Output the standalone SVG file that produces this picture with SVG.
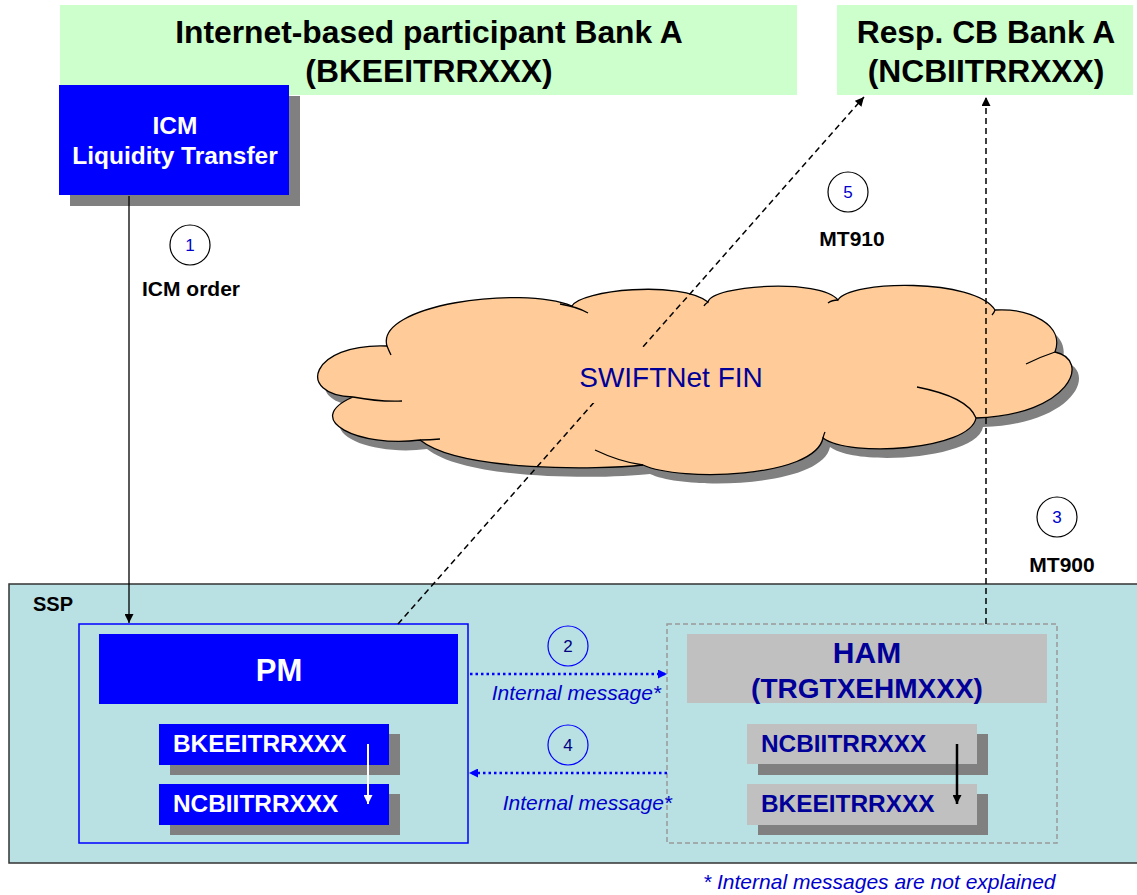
<svg xmlns="http://www.w3.org/2000/svg" width="1137" height="895" viewBox="0 0 1137 895">
<style>
text{font-family:"Liberation Sans",Arial,sans-serif}
.hdr{fill:#ccffcc}
.hdrT{font-size:31.8px;font-weight:bold;fill:#000;text-anchor:middle}
.shadow{fill:#808080}
.blue{fill:#0000ff}
.gray{fill:#c0c0c0}
.wT{fill:#fff;font-weight:bold}
.hamT{fill:#000099;font-weight:bold}
.dash{stroke:#000;stroke-width:1.5;stroke-dasharray:6 4;fill:none}
.dot{stroke:#0000ff;stroke-width:2.5;stroke-dasharray:2.5 3;fill:none}
.step{fill:#fff;stroke:#000;stroke-width:1.2}
.stepB{fill:none;stroke:#0000ff;stroke-width:1.2}
.num{font-size:17px;text-anchor:middle;fill:#0000cc}
.numB{font-size:17px;text-anchor:middle;fill:#000080}
.lbl{font-size:21px;font-weight:bold;text-anchor:middle;fill:#000}
.im{font-size:21px;font-style:italic;fill:#0000cc;text-anchor:end}
.crease{fill:none;stroke:#000;stroke-width:1.3}
</style>
<defs>
<marker id="ahK" viewBox="0 0 10 10" refX="10" refY="5" markerWidth="10" markerHeight="9" markerUnits="userSpaceOnUse" orient="auto"><path d="M0,0 L10,5 L0,10 z" fill="#000"/></marker>
<marker id="ahB" viewBox="0 0 10 10" refX="10" refY="5" markerWidth="10" markerHeight="9" markerUnits="userSpaceOnUse" orient="auto"><path d="M0,0 L10,5 L0,10 z" fill="#0000ff"/></marker>
<marker id="ahW" viewBox="0 0 10 10" refX="10" refY="5" markerWidth="11" markerHeight="9" markerUnits="userSpaceOnUse" orient="auto"><path d="M0,0 L10,5 L0,10 z" fill="#fff"/></marker>
<path id="cloudShape" d="M387,346 C375,305 520,285 572,306 C580,290 680,280 708,302 C712,285 820,278 838,300 C850,280 975,278 995,310 C1030,308 1065,325 1055,352 C1092,360 1070,415 976,418 C970,450 850,458 823,438 C815,478 680,482 643,465 C600,470 460,472 420,440 C360,448 300,420 353,397 C295,395 310,343 387,346 Z"/>
</defs>

<g id="ssp">
<rect x="9" y="584" width="1140" height="279" fill="#b9e0e3" stroke="#333" stroke-width="1.5"/>
<text x="33" y="611" font-size="20" font-weight="bold" fill="#000">SSP</text>
</g>

<g id="bank-a">
<rect class="hdr" x="60" y="5" width="737" height="90"/>
<text class="hdrT" x="429" y="43">Internet-based participant Bank A</text>
<text class="hdrT" x="429" y="82">(BKEEITRRXXX)</text>
</g>

<g id="cb-bank-a">
<rect class="hdr" x="837" y="5" width="296" height="90"/>
<text class="hdrT" x="986" y="43">Resp. CB Bank A</text>
<text class="hdrT" x="986" y="82">(NCBIITRRXXX)</text>
</g>

<g id="icm">
<rect class="shadow" x="70" y="96" width="230" height="110"/>
<rect class="blue" x="59" y="85" width="230" height="110"/>
<text class="wT" x="175" y="134" font-size="24.5" text-anchor="middle">ICM</text>
<text class="wT" x="175" y="164" font-size="24.5" text-anchor="middle">Liquidity Transfer</text>
</g>

<g id="swiftnet">
<use href="#cloudShape" transform="translate(7,9)" fill="#808080"/>
<use href="#cloudShape" fill="#ffcc99" stroke="#000" stroke-width="1.3"/>
<path class="crease" d="M353,397 Q380,402 402,401 M387,346 Q389,351 391,355 M560,304 Q578,307 588,313 M708,302 Q705,304 704,306 M838,300 Q832,300 828,303 M995,310 Q994,313 992,315 M1055,352 Q1040,357 1026,364 M917,387 Q968,397 976,418 M823,438 Q824,434 825,432 M595,450 Q620,462 643,465 M420,440 Q430,440 440,439"/>
</g>

<g id="pm">
<rect x="79" y="624" width="389" height="219" fill="none" stroke="#0000ff" stroke-width="1.5"/>
<rect class="blue" x="99" y="634" width="359" height="70"/>
<text class="wT" x="279" y="681" font-size="31" text-anchor="middle">PM</text>
<rect class="shadow" x="170" y="734" width="230" height="41"/>
<rect class="blue" x="159" y="724" width="230" height="41"/>
<text class="wT" x="173" y="752" font-size="24.4">BKEEITRRXXX</text>
<rect class="shadow" x="170" y="794" width="230" height="41"/>
<rect class="blue" x="159" y="784" width="230" height="41"/>
<text class="wT" x="173" y="812" font-size="24.4">NCBIITRRXXX</text>
<line x1="368" y1="744" x2="368" y2="804" stroke="#fff" stroke-width="2" marker-end="url(#ahW)"/>
</g>

<g id="ham">
<rect x="667" y="624" width="390" height="219" fill="none" stroke="#999" stroke-width="1.5" stroke-dasharray="5 3"/>
<rect class="gray" x="687" y="634" width="360" height="69"/>
<text class="hamT" x="867" y="663" font-size="30" text-anchor="middle">HAM</text>
<text class="hamT" x="867" y="698" font-size="28" text-anchor="middle">(TRGTXEHMXXX)</text>
<rect class="shadow" x="758" y="734" width="230" height="41"/>
<rect class="gray" x="747" y="724" width="230" height="40"/>
<text class="hamT" x="761" y="752" font-size="24.4">NCBIITRRXXX</text>
<rect class="shadow" x="758" y="794" width="230" height="41"/>
<rect class="gray" x="747" y="784" width="230" height="41"/>
<text class="hamT" x="761" y="812" font-size="24.4">BKEEITRRXXX</text>
<line x1="957" y1="744" x2="957" y2="804" stroke="#000" stroke-width="2.5" marker-end="url(#ahK)"/>
</g>

<g id="connectors">
<line x1="129" y1="196" x2="129" y2="623" stroke="#000" stroke-width="1.3" marker-end="url(#ahK)"/>
<line class="dash" x1="398" y1="624" x2="864" y2="97" marker-end="url(#ahK)"/>
<line class="dash" x1="986" y1="624" x2="986" y2="97" marker-end="url(#ahK)"/>
<line class="dot" x1="470" y1="674" x2="667" y2="674" marker-end="url(#ahB)"/>
<line class="dot" x1="667" y1="773" x2="469" y2="773" marker-end="url(#ahB)"/>
</g>

<g id="cloud-label">
<rect x="582" y="347" width="185" height="56" fill="#ffcc99"/>
<text x="671" y="387" font-size="28" fill="#000099" text-anchor="middle">SWIFTNet FIN</text>
</g>

<g id="step-labels">
<circle class="step" cx="190" cy="245" r="20"/>
<text class="num" x="190" y="251">1</text>
<text class="lbl" x="191" y="296">ICM order</text>
<circle class="stepB" cx="568" cy="646" r="20"/>
<text class="numB" x="568" y="652">2</text>
<text class="im" x="661" y="700">Internal message*</text>
<circle class="step" cx="1057" cy="517" r="20"/>
<text class="num" x="1057" y="523">3</text>
<text class="lbl" x="1062" y="572">MT900</text>
<circle class="stepB" cx="568" cy="745" r="20"/>
<text class="numB" x="568" y="751">4</text>
<text class="im" x="672" y="810">Internal message*</text>
<circle class="step" cx="848" cy="192" r="20"/>
<text class="num" x="848" y="198">5</text>
<text class="lbl" x="852" y="246">MT910</text>
</g>

<g id="footnote">
<text x="703" y="889" font-size="21" font-style="italic" fill="#0000cc">* Internal messages are not explained</text>
</g>
</svg>
